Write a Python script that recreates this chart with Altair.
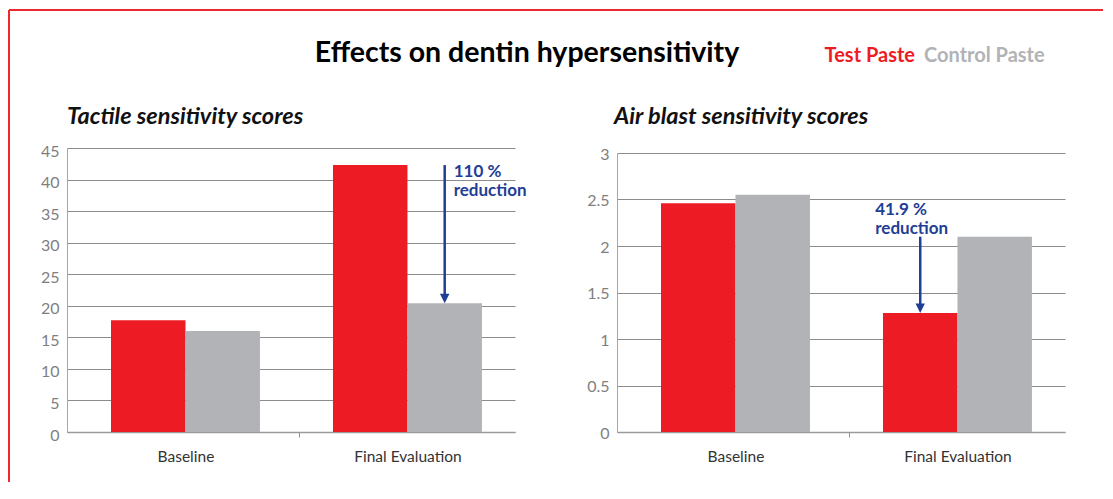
import altair as alt
import pandas as pd

# ---------------- data ----------------
categories = ["Baseline", "Final Evaluation"]
series = ["Test Paste", "Control Paste"]
series_colors = ["#ED1C24", "#B1B3B6"]

tactile_test = [17.7, 42.3]
tactile_control = [16.0, 20.4]
air_test = [2.46, 1.28]
air_control = [2.55, 2.1]

tactile_ticks = [0, 5, 10, 15, 20, 25, 30, 35, 40, 45]
air_ticks = [0, 0.5, 1, 1.5, 2, 2.5, 3]

main_title = "Effects on dentin hypersensitivity"
tactile_title = "Tactile sensitivity scores"
air_title = "Air blast sensitivity scores"
tactile_note = ["110 %", "reduction"]
air_note = ["41.9 %", "reduction"]

BLUE = "#1F3E95"
FONT = "Lato"


def table(test_vals, control_vals):
    rows = []
    for i, c in enumerate(categories):
        rows.append({"category": c, "series": series[0], "value": test_vals[i]})
        rows.append({"category": c, "series": series[1], "value": control_vals[i]})
    return pd.DataFrame(rows)


color_scale = alt.Scale(domain=series, range=series_colors)


def panel(df, ann, ticks, ymax, yrange, ylab_offset, subtitle, sub_dx,
          note_dx, note_dy, extra=None):
    x_axis = alt.Axis(
        labelAngle=0, labelFontSize=15.5, labelColor="#333333", labelPadding=12,
        labelFont=FONT, grid=False, tickSize=5, tickOffset=114, labelOffset=-114,
        tickColor={"condition": {"test": "datum.value === 'Baseline'", "value": "#8f8f8f"},
                   "value": "transparent"},
        domainColor="#9a9a9a", domainWidth=1.5,
    )
    x_scale = alt.Scale(paddingInner=0.329, paddingOuter=0.1736, align=0.571)
    y_axis = alt.Axis(
        values=ticks, format="~g", grid=True, gridColor="#8c8c8c", gridWidth=1, ticks=False,
        labelPadding=8, labelFontSize=16, labelColor="#7f7f7f", labelFont=FONT,
        labelOffset=ylab_offset, domainColor="#a6a6a6", domainWidth=1,
    )
    if yrange is not None:
        yscale = alt.Scale(domain=[0, ymax], nice=False, zero=True, range=yrange)
    else:
        yscale = alt.Scale(domain=[0, ymax], nice=False, zero=True)

    xa = alt.X("category:N", sort=categories, title=None, scale=x_scale, axis=x_axis)
    xoa = alt.XOffset("series:N", sort=series, scale=alt.Scale(paddingInner=0, paddingOuter=0))

    bars = alt.Chart(df).mark_bar().encode(
        x=xa, xOffset=xoa,
        y=alt.Y("value:Q", title=None, scale=yscale, axis=y_axis),
        color=alt.Color("series:N", scale=color_scale, legend=None),
    )
    shaft = alt.Chart(ann).mark_rule(color=BLUE, strokeWidth=2.5, y2Offset=-5).encode(
        x=xa, xOffset=xoa,
        y=alt.Y("start:Q", title=None, scale=yscale, axis=y_axis), y2="end:Q",
    )
    head = alt.Chart(ann).mark_point(
        shape="M-1,-2L1,-2L0,0Z", size=90, filled=True, color=BLUE, opacity=1
    ).encode(x=xa, xOffset=xoa, y=alt.Y("end:Q", title=None, scale=yscale, axis=y_axis))
    note = alt.Chart(ann).mark_text(
        align="left", baseline="alphabetic", dx=note_dx, dy=note_dy,
        fontSize=17, fontWeight="bold", color=BLUE, font=FONT, lineHeight=19,
    ).encode(x=xa, xOffset=xoa,
             y=alt.Y("start:Q", title=None, scale=yscale, axis=y_axis), text="label")

    sub = alt.Chart(pd.DataFrame({"t": [subtitle]})).mark_text(
        align="left", baseline="alphabetic", fontSize=23.5, fontWeight="bold",
        fontStyle="italic", font=FONT, color="#111111",
    ).encode(text="t:N", x=alt.value(sub_dx), y=alt.value(-24))

    layers = [bars, shaft, head, note, sub]
    if extra:
        layers += extra
    return alt.layer(*layers).properties(width=448, height=284)


# header texts and frame (placed relative to the left panel)
title_mark = alt.Chart(pd.DataFrame({"t": [main_title]})).mark_text(
    align="center", baseline="alphabetic", fontSize=28.5, fontWeight="bold",
    font=FONT, color="#000000",
).encode(text="t:N", x=alt.value(460), y=alt.value(-86))

legend_df = pd.DataFrame({"series": series})
legend_test = alt.Chart(legend_df).transform_filter(
    alt.datum.series == series[0]
).mark_text(align="right", baseline="alphabetic", fontSize=20, fontWeight="bold", font=FONT).encode(
    text="series:N", color=alt.Color("series:N", scale=color_scale, legend=None),
    x=alt.value(848), y=alt.value(-86),
)
legend_ctrl = alt.Chart(legend_df).transform_filter(
    alt.datum.series == series[1]
).mark_text(align="left", baseline="alphabetic", fontSize=20, fontWeight="bold", font=FONT).encode(
    text="series:N", color=alt.Color("series:N", scale=color_scale, legend=None),
    x=alt.value(857), y=alt.value(-86),
)

frame_df = pd.DataFrame({"k": [0]})
frame_top = alt.Chart(frame_df).mark_rule(color="#EE2A30", strokeWidth=2).encode(
    x=alt.value(-58), x2=alt.value(1036), y=alt.value(-138)
)
frame_left = alt.Chart(frame_df).mark_rule(color="#EE2A30", strokeWidth=2).encode(
    x=alt.value(-58), y=alt.value(-138), y2=alt.value(334)
)

tactile_ann = pd.DataFrame([{
    "category": categories[1], "series": series[1],
    "start": tactile_test[1], "end": tactile_control[1], "label": tactile_note,
}])
air_ann = pd.DataFrame([{
    "category": categories[1], "series": series[0],
    "start": air_control[1], "end": air_test[1], "label": air_note,
}])

left = panel(
    table(tactile_test, tactile_control), tactile_ann, tactile_ticks, 45, None, 3,
    tactile_title, 0, 9, 12,
    extra=[title_mark, legend_test, legend_ctrl, frame_top, frame_left],
)
right = panel(
    table(air_test, air_control), air_ann, air_ticks, 3, [284, 5], 1,
    air_title, -3, -45, -22,
)

chart = alt.hconcat(left, right, spacing=102, bounds="flush").properties(
    padding={"left": 0, "top": 1, "right": 0, "bottom": 0}
).configure(font=FONT).configure_view(stroke=None)

chart.save("out.html", embed_options={"renderer": "svg", "actions": False})
